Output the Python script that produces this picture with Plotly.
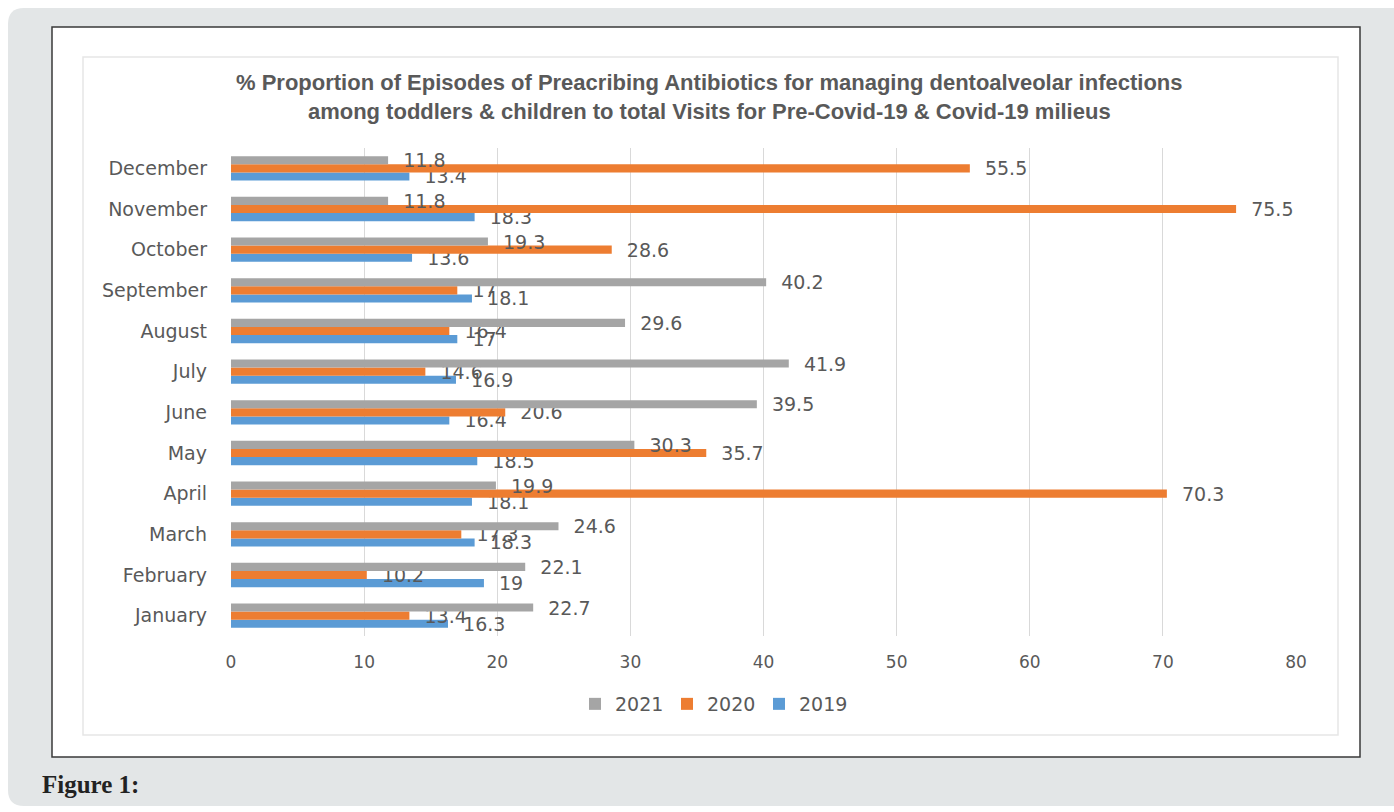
import plotly.graph_objects as go

months = ["January", "February", "March", "April", "May", "June", "July",
          "August", "September", "October", "November", "December"]
y2021 = [22.7, 22.1, 24.6, 19.9, 30.3, 39.5, 41.9, 29.6, 40.2, 19.3, 11.8, 11.8]
y2020 = [13.4, 10.2, 17.3, 70.3, 35.7, 20.6, 14.6, 16.4, 17, 28.6, 75.5, 55.5]
y2019 = [16.3, 19, 18.3, 18.1, 18.5, 16.4, 16.9, 17, 18.1, 13.6, 18.3, 13.4]
x_ticks = [0, 10, 20, 30, 40, 50, 60, 70, 80]

W, H = 1394, 812
PL, PR, PT, PB = 231, 1296, 148, 636


def px(x):
    return (x - PL) / (PR - PL)


def py(y):
    return (PB - y) / (PB - PT)


TXT = "#595959"
FONT = "DejaVu Sans"

fig = go.Figure()
series = [("2019", y2019, "#5b9bd5"), ("2020", y2020, "#ed7d31"), ("2021", y2021, "#a5a5a5")]
for name, vals, col in series:
    fig.add_trace(go.Bar(
        y=months, x=vals, name=name, orientation="h",
        marker=dict(color=col, line=dict(width=0)),
        text=vals, texttemplate="\u00a0\u00a0%{x}", textposition="outside",
        textfont=dict(family=FONT, size=19, color=TXT),
        constraintext="none", cliponaxis=False,
    ))

# background shapes
r = 16
x0, y0, x1, y1 = px(8), py(8), px(1410), py(806)
rx = r / (PR - PL)
ry = r / (PB - PT)
path = (f"M {x0+rx},{y0} L {x1},{y0} L {x1},{y1} L {x0+rx},{y1} "
        f"Q {x0},{y1} {x0},{y1+ry} L {x0},{y0-ry} Q {x0},{y0} {x0+rx},{y0} Z")
shapes = [
    dict(type="path", xref="paper", yref="paper", path=path,
         fillcolor="#e3e6e7", line=dict(width=0), layer="below"),
    dict(type="rect", xref="paper", yref="paper", x0=px(52), x1=px(1360), y0=py(27), y1=py(757),
         fillcolor="white", line=dict(color="#3a3a3a", width=1.5), layer="below"),
    dict(type="rect", xref="paper", yref="paper", x0=px(83), x1=px(1338), y0=py(57), y1=py(735),
         fillcolor="rgba(0,0,0,0)", line=dict(color="#e6e6e6", width=1.5), layer="below"),
]

annotations = [
    dict(xref="paper", yref="paper", x=px(709), y=py(97), xanchor="center", yanchor="middle",
         text="<b>% Proportion of Episodes of Preacribing Antibiotics for managing dentoalveolar infections<br>"
              "among toddlers &amp; children to total Visits for Pre-Covid-19 &amp; Covid-19 milieus</b>",
         showarrow=False, align="center",
         font=dict(family="Liberation Sans Narrow, Arial Narrow, Liberation Sans", size=22, color=TXT)),
    dict(xref="paper", yref="paper", x=px(40), y=py(784), xanchor="left", yanchor="middle",
         text="<b>Figure 1:</b>", showarrow=False,
         font=dict(family="Liberation Serif", size=25, color="#222222")),
]

fig.update_layout(
    width=W, height=H,
    margin=dict(l=PL, r=W - PR, t=PT, b=H - PB, pad=0),
    paper_bgcolor="white", plot_bgcolor="white",
    barmode="group", bargap=0.4, bargroupgap=0,
    shapes=shapes, annotations=annotations,
    showlegend=True,
    legend=dict(orientation="h", traceorder="reversed", x=px(713), y=py(704),
                xanchor="center", yanchor="middle", bgcolor="rgba(0,0,0,0)",
                entrywidth=47, entrywidthmode="pixels",
                font=dict(family=FONT, size=19, color=TXT)),
    xaxis=dict(range=[0, 80], tickvals=x_ticks, showgrid=True, gridcolor="#d9d9d9", gridwidth=1,
               zeroline=False, showline=False, ticks="", ticklabelstandoff=14,
               tickfont=dict(family=FONT, size=17, color=TXT)),
    yaxis=dict(categoryorder="array", categoryarray=months, showgrid=False, zeroline=False,
               showline=False, ticks="", ticklabelstandoff=23,
               tickfont=dict(family=FONT, size=19, color=TXT)),
)

fig.write_html("out.html")
